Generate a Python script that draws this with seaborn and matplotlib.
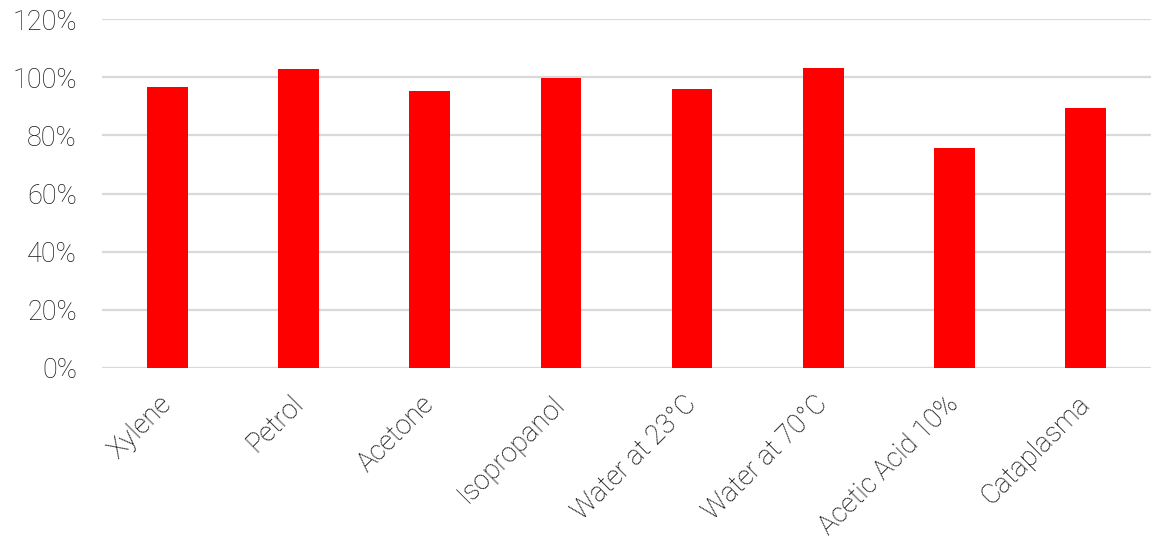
import matplotlib
matplotlib.use("Agg")
import matplotlib.pyplot as plt
import seaborn as sns
import pandas as pd
from matplotlib.ticker import PercentFormatter

categories = ["Xylene", "Petrol", "Acetone", "Isopropanol", "Water at 23°C",
              "Water at 70°C", "Acetic Acid 10%", "Cataplasma"]
values = [96.5, 102.8, 95.2, 99.7, 95.8, 103.0, 75.6, 89.3]
y_ticks = [0, 20, 40, 60, 80, 100, 120]

sns.set_style("white")
plt.rcParams["font.family"] = ["Roboto", "DejaVu Sans"]

df = pd.DataFrame({"category": categories, "value": values})

W, H = 1151, 542
fig = plt.figure(figsize=(W / 100, H / 100), dpi=100)
ax = fig.add_axes([102 / W, (H - 368) / H, (W - 102) / W, (368 - 19) / H])

sns.barplot(data=df, x="category", y="value", color="#FF0000", width=0.31,
            saturation=1, ax=ax, zorder=3, edgecolor="none")

ax.set_ylim(0, 120)
ax.set_yticks(y_ticks)
ax.yaxis.set_major_formatter(PercentFormatter(decimals=0))
ax.set_xlim(-0.5, len(categories) - 0.5)
ax.grid(axis="y", color="#d9d9d9", linewidth=1.6, zorder=0)
ax.set_axisbelow(True)
for s in ax.spines.values():
    s.set_visible(False)
ax.set_xlabel("")
ax.set_ylabel("")
ax.tick_params(axis="y", length=0, pad=18, labelsize=19.5, labelcolor="#1a1a1a")
ax.tick_params(axis="x", length=0, pad=23, labelsize=19.5, labelcolor="#000000")
for lbl in ax.get_yticklabels():
    lbl.set_fontweight("light")
for lbl in ax.get_xticklabels():
    lbl.set_rotation(45)
    lbl.set_ha("right")
    lbl.set_va("center")
    lbl.set_rotation_mode("anchor")
    lbl.set_fontweight("light")

fig.savefig("out.png", dpi=100)
